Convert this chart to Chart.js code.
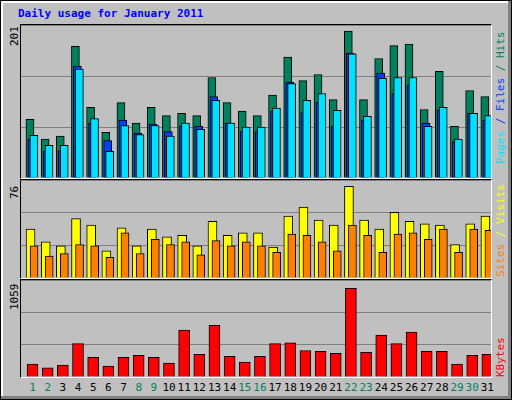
<!DOCTYPE html>
<html><head><meta charset="utf-8">
<script src="https://cdn.jsdelivr.net/npm/chart.js@4/dist/chart.umd.min.js"></script>
<style>
body{margin:0;width:512px;height:400px;overflow:hidden;background:#fff}
#frame{position:absolute;left:0;top:0;width:510px;height:398px;background:#c0c0c0;border:1px solid #000;
 box-shadow:inset -3px -3px 0 #808080,inset 2px 2px 0 #fff}
.box{position:absolute;border-top:1px solid #000;border-left:1px solid #000;border-right:1px solid #fff;border-bottom:1px solid #fff}
.box canvas{display:block}
.t{position:absolute;font-family:"DejaVu Sans Mono",monospace;font-size:11px;white-space:nowrap}
.rot{transform-origin:0 0;transform:rotate(-90deg)}
#title{left:18px;top:7px;color:#0000ff;font-weight:bold;font-size:11px}
</style></head><body>
<div id="frame"></div>
<div class="t" id="title">Daily usage for January 2011</div>
<div class="box" style="left:20px;top:24px;width:470px;height:153px"><canvas id="c1" width="470" height="153"></canvas></div>
<div class="box" style="left:20px;top:179px;width:470px;height:98px"><canvas id="c2" width="470" height="98"></canvas></div>
<div class="box" style="left:20px;top:279px;width:470px;height:97px"><canvas id="c3" width="470" height="97"></canvas></div>
<div class="t rot" style="left:8px;top:46px;color:#000">201</div>
<div class="t rot" style="left:8px;top:199px;color:#000">76</div>
<div class="t rot" style="left:8px;top:310px;color:#000">1059</div>
<div class="t rot" style="left:494px;top:164px"><span style="color:#00e0ff">Pages</span><span style="color:#0040ff"> / </span><span style="color:#0040ff">Files</span><span style="color:#00805c"> / Hits</span></div>
<div class="t rot" style="left:494px;top:277px"><span style="color:#ff8000">Sites</span><span style="color:#ffff00"> / Visits</span></div>
<div class="t rot" style="left:494px;top:377px;color:#ff0000">KBytes</div>
<div id="days"></div>
<script>
const days = Array.from({length: 31}, (_, i) => i + 1);
const weekend = [1, 2, 8, 9, 15, 16, 22, 23, 29, 30];
const hits = [77,51,55,173,93,60,99,72,93,82,85,82,132,99,88,82,109,159,128,136,103,193,103,157,174,176,90,140,68,115,107];
const files = [51,35,36,147,72,49,76,59,71,61,68,68,107,72,61,61,88,126,86,99,68,164,76,138,111,122,72,89,48,85,76];
const pages = [56,43,43,143,78,35,69,57,69,55,72,64,102,72,67,67,92,124,102,111,89,163,81,131,132,132,68,93,51,85,82];
const visits = [38,28,25,46,41,21,39,25,38,32,33,25,44,33,35,35,24,48,55,45,41,71,45,38,51,44,42,41,26,42,48];
const sites = [25,17,19,26,25,16,35,19,30,26,28,18,29,25,28,25,20,34,33,28,21,41,33,20,34,35,30,38,20,38,37];
const kbytes = [141,99,131,364,215,120,215,237,215,152,512,247,565,226,162,226,364,374,289,279,258,967,268,459,364,491,279,279,141,237,247];

const dl = document.getElementById('days');
days.forEach(d => {
    const s = document.createElement('div');
    s.className = 't';
    s.textContent = d;
    s.style.left = (20 + (d - 0.5) * 15.16 + 5) + 'px';
    s.style.top = '381px';
    s.style.transform = 'translateX(-50%)';
    s.style.color = weekend.includes(d) ? '#00805c' : '#000';
    dl.appendChild(s);
});

function ds(vals, off, color, w) {
    return {
        data: vals.map((v, i) => ({x: days[i] + off, y: v})),
        backgroundColor: color, borderColor: '#000', borderWidth: 1,
        barThickness: w, grouped: false
    };
}

function make(id, sets, max) {
    new Chart(document.getElementById(id), {
        type: 'bar',
        data: {datasets: sets},
        options: {
            responsive: false, animation: false,
            layout: {padding: 0},
            plugins: {legend: {display: false}, tooltip: {enabled: false}},
            scales: {
                x: {type: 'linear', min: 0.5, max: 31.5, offset: false, display: false},
                y: {min: 0, max: max, ticks: {display: false, stepSize: max / 3},
                    grid: {color: '#808080', drawTicks: false}, border: {display: false},
                    afterFit: s => { s.width = 0; }}
            }
        }
    });
}

// dataset 0 is drawn on top
make('c1', [ds(pages, 0.35, '#00e0ff', 8), ds(files, 0.22, '#0040ff', 8), ds(hits, 0.09, '#00805c', 8)], 201);
make('c2', [ds(sites, 0.36, '#ff8000', 8), ds(visits, 0.13, '#ffff00', 9)], 76);
make('c3', [ds(kbytes, 0.26, '#ff0000', 11)], 1059);
</script>
</body></html>
